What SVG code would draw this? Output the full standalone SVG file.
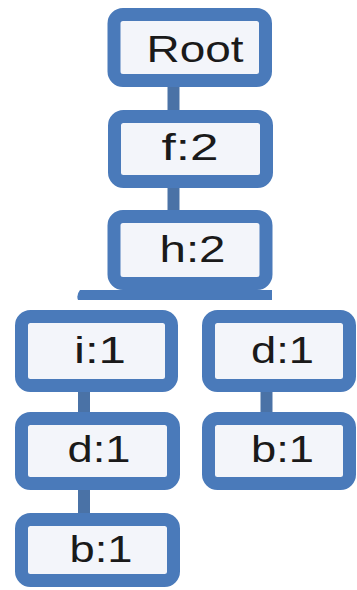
<svg xmlns="http://www.w3.org/2000/svg" width="357" height="590" viewBox="0 0 357 590">
<style>
.box{fill:#f3f5fa;stroke:#4a7aba;stroke-width:13;stroke-linejoin:round}
.lbl{font-family:"Liberation Sans","Open Sans",sans-serif;font-size:36px;fill:#1a1a1a;text-anchor:middle}
.conn{stroke:#4a72a6;stroke-width:12;fill:none}
</style>
<rect width="357" height="590" fill="#ffffff"/>
<g id="connectors">
<line class="conn" x1="173.5" y1="84" x2="173.5" y2="112"/>
<line class="conn" x1="173.5" y1="186" x2="173.5" y2="212"/>
<path d="M80 290 H272 V300 H78 Q76 295 80 290 Z" fill="#4a7aba"/>
<line class="conn" x1="84" y1="390" x2="84" y2="414"/>
<line class="conn" x1="266.5" y1="390" x2="266.5" y2="414"/>
<line class="conn" x1="84" y1="488" x2="84" y2="515"/>
</g>
<g id="node-root">
<rect class="box" x="114" y="14.5" width="151.5" height="66" rx="9"/>
<text class="lbl" x="195" y="62" textLength="97" lengthAdjust="spacingAndGlyphs">Root</text>
</g>
<g id="node-f2">
<rect class="box" x="114.5" y="116.5" width="152" height="65" rx="9"/>
<text class="lbl" x="190" y="160" textLength="57" lengthAdjust="spacingAndGlyphs">f:2</text>
</g>
<g id="node-h2">
<rect class="box" x="114" y="216.5" width="152" height="67" rx="9"/>
<text class="lbl" x="192.5" y="262" textLength="66" lengthAdjust="spacingAndGlyphs">h:2</text>
</g>
<g id="node-i1">
<rect class="box" x="21.5" y="316.5" width="150" height="69" rx="9"/>
<text class="lbl" x="100" y="363" textLength="52" lengthAdjust="spacingAndGlyphs">i:1</text>
</g>
<g id="node-d1-right">
<rect class="box" x="208.5" y="316.5" width="141" height="69" rx="9"/>
<text class="lbl" x="282.5" y="363" textLength="63" lengthAdjust="spacingAndGlyphs">d:1</text>
</g>
<g id="node-d1-left">
<rect class="box" x="21.5" y="418.5" width="152" height="65" rx="9"/>
<text class="lbl" x="99" y="462" textLength="63" lengthAdjust="spacingAndGlyphs">d:1</text>
</g>
<g id="node-b1-right">
<rect class="box" x="208.5" y="418.5" width="141" height="65" rx="9"/>
<text class="lbl" x="282.5" y="462" textLength="63" lengthAdjust="spacingAndGlyphs">b:1</text>
</g>
<g id="node-b1-left">
<rect class="box" x="21.5" y="519.5" width="152" height="61" rx="9"/>
<text class="lbl" x="101" y="562" textLength="63" lengthAdjust="spacingAndGlyphs">b:1</text>
</g>
</svg>
